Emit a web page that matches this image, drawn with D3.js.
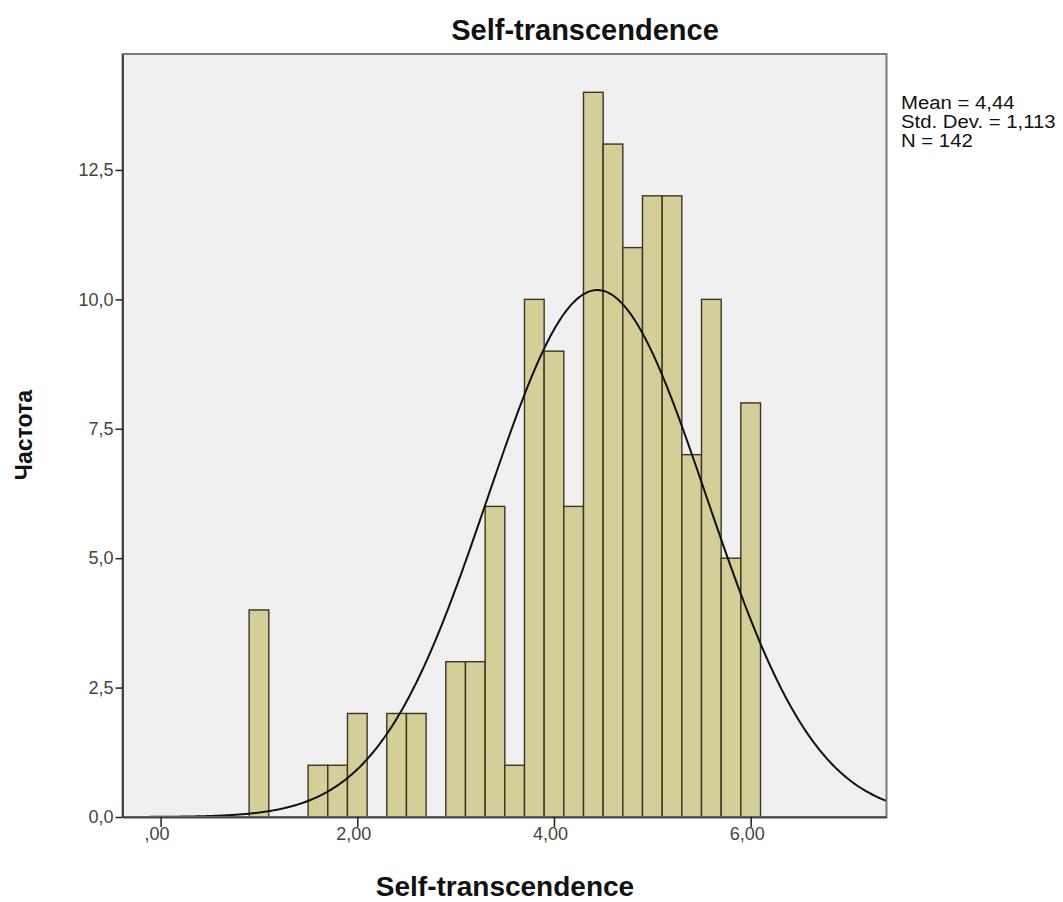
<!DOCTYPE html>
<html>
<head>
<meta charset="utf-8">
<script src="https://cdn.jsdelivr.net/npm/d3@7"></script>
<style>
  html, body { margin: 0; padding: 0; background: #ffffff; }
  svg { display: block; font-family: "Liberation Sans", Arial, sans-serif; }
</style>
</head>
<body>
<svg id="chart" width="1063" height="902"></svg>
<script>
// ---- data ----
const binCenters = [1.0, 1.6, 1.8, 2.0, 2.4, 2.6, 3.0, 3.2, 3.4, 3.6, 3.8, 4.0, 4.2, 4.4, 4.6, 4.8, 5.0, 5.2, 5.4, 5.6, 5.8, 6.0];
const counts     = [4,   1,   1,   2,   2,   2,   3,   3,   6,   1,   10,  9,   6,   14,  13,  11,  12,  12,  7,   10,  5,   8];
const binWidth = 0.2;
const xTicks = [0, 2, 4, 6];
const xTickLabels = [",00", "2,00", "4,00", "6,00"];
const yTicks = [0, 2.5, 5, 7.5, 10, 12.5];
const yTickLabels = ["0,0", "2,5", "5,0", "7,5", "10,0", "12,5"];
const meanVal = 4.44, sdVal = 1.113, nVal = 142;
const statLines = ["Mean = 4,44", "Std. Dev. = 1,113", "N = 142"];
const titleText = "Self-transcendence";
const xLabel = "Self-transcendence";
const yLabel = "Частота";

// ---- layout ----
const L = 122.5, R = 886.5, T = 54, B = 817;
const svg = d3.select("#chart");
const x = d3.scaleLinear().domain([-0.3874, 7.381]).range([L, R]);
const y = d3.scaleLinear().domain([0, 14.74]).range([B, T]);

// plot background
svg.append("rect").attr("x", L).attr("y", T).attr("width", R - L).attr("height", B - T)
  .attr("fill", "#f0f0f0");

// bars
svg.append("g").selectAll("rect").data(binCenters).join("rect")
  .attr("x", (d) => x(d - binWidth / 2))
  .attr("width", (d) => x(d + binWidth / 2) - x(d - binWidth / 2))
  .attr("y", (d, i) => y(counts[i]))
  .attr("height", (d, i) => y(0) - y(counts[i]))
  .attr("fill", "#d4cf98")
  .attr("stroke", "#3b3622")
  .attr("stroke-width", 1.4);

// normal curve
const scaleK = nVal * binWidth / (sdVal * Math.sqrt(2 * Math.PI));
const xs = d3.range(0, 401).map(i => x.domain()[0] + (x.domain()[1] - x.domain()[0]) * i / 400);
const curve = d3.line()
  .x(d => x(d))
  .y(d => y(scaleK * Math.exp(-0.5 * Math.pow((d - meanVal) / sdVal, 2))))
  .curve(d3.curveBasis);
svg.append("path").datum(xs).attr("d", curve)
  .attr("fill", "none").attr("stroke", "#111").attr("stroke-width", 2);

// frame
svg.append("rect").attr("x", L).attr("y", T).attr("width", R - L).attr("height", B - T)
  .attr("fill", "none").attr("stroke", "#7a7a7a").attr("stroke-width", 2);

// axes
const xAxis = d3.axisBottom(x).tickValues(xTicks).tickSize(10).tickSizeOuter(0)
  .tickFormat((d, i) => xTickLabels[i]);
const gx = svg.append("g").attr("transform", `translate(0,${B})`).call(xAxis);
gx.select(".domain").attr("stroke", "#444").attr("stroke-width", 2);
gx.selectAll(".tick line").attr("stroke", "#222").attr("stroke-width", 1.5);
gx.selectAll(".tick text").attr("font-size", 18).attr("fill", "#444")
  .attr("font-family", "Liberation Sans, Arial, sans-serif").attr("dy", "0.55em").attr("dx", -4);

const yAxis = d3.axisLeft(y).tickValues(yTicks).tickSize(7).tickSizeOuter(0)
  .tickFormat((d, i) => yTickLabels[i]);
const gy = svg.append("g").attr("transform", `translate(${L},0)`).call(yAxis);
gy.select(".domain").attr("stroke", "#444").attr("stroke-width", 2);
gy.selectAll(".tick line").attr("stroke", "#222").attr("stroke-width", 1.5);
gy.selectAll(".tick text").attr("font-size", 18).attr("fill", "#444")
  .attr("font-family", "Liberation Sans, Arial, sans-serif").attr("x", -9);

// titles
svg.append("text").attr("x", 585).attr("y", 39.5).attr("text-anchor", "middle")
  .attr("font-size", 29).attr("font-weight", "bold").attr("fill", "#111").text(titleText);
svg.append("text").attr("x", 505).attr("y", 896).attr("text-anchor", "middle")
  .attr("font-size", 28).attr("font-weight", "bold").attr("fill", "#111").text(xLabel);
svg.append("text").attr("transform", "translate(32,435) rotate(-90)").attr("text-anchor", "middle")
  .attr("font-size", 23).attr("font-weight", "bold").attr("fill", "#111").text(yLabel);

// stats
svg.append("g").attr("transform", "translate(901,0) scale(1.13,1)")
  .selectAll("text").data(statLines).join("text")
  .attr("x", 0).attr("y", (d, i) => 109 + i * 19)
  .attr("font-size", 18).attr("fill", "#111").text(d => d);
</script>
</body>
</html>
